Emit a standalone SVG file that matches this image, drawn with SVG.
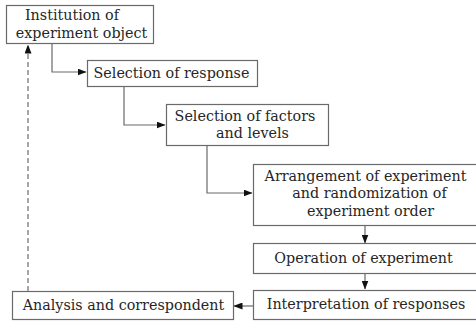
<svg xmlns="http://www.w3.org/2000/svg" width="476" height="322" viewBox="0 0 476 322">
<defs>
<style>
.box{fill:#fff;stroke:#6a6a6a;stroke-width:1.2}
.t{font-family:'DejaVu Serif','Liberation Serif',serif;font-size:14.3px;fill:#262626;text-anchor:middle}
.c{fill:none;stroke:#6a6a6a;stroke-width:1.2}
.d{fill:none;stroke:#8a8a8a;stroke-width:1.5;stroke-dasharray:5,3}
</style>
<marker id="ah" markerWidth="9" markerHeight="7" refX="8.5" refY="3.5" orient="auto" markerUnits="userSpaceOnUse">
<path d="M0,0 L9,3.5 L0,7 Z" fill="#111"/>
</marker>
</defs>
<rect width="476" height="322" fill="#fff"/>
<g id="connectors">
<path class="c" d="M52,44 V72 H86" marker-end="url(#ah)"/>
<path class="c" d="M124,87 V125 H165" marker-end="url(#ah)"/>
<path class="c" d="M207,146 V193 H252" marker-end="url(#ah)"/>
<path class="c" d="M365,226 V243" marker-end="url(#ah)"/>
<path class="c" d="M365,274 V289" marker-end="url(#ah)"/>
<path class="c" d="M253,306 H234" marker-end="url(#ah)"/>
<path class="d" d="M28,291 V45" marker-end="url(#ah)"/>
</g>
<g id="n1">
<rect class="box" x="6.5" y="5.5" width="147" height="38"/>
<text class="t" x="72" y="20">Institution of</text>
<text class="t" x="81.5" y="38">experiment object</text>
</g>
<g id="n2">
<rect class="box" x="87.5" y="60.5" width="170" height="26"/>
<text class="t" x="171.5" y="78">Selection of response</text>
</g>
<g id="n3">
<rect class="box" x="166.5" y="104.5" width="162" height="41"/>
<text class="t" x="245" y="121">Selection of factors</text>
<text class="t" x="252.5" y="138">and levels</text>
</g>
<g id="n4">
<rect class="box" x="253.5" y="164.5" width="226" height="61"/>
<text class="t" x="365.5" y="181">Arrangement of experiment</text>
<text class="t" x="369.5" y="198">and randomization of</text>
<text class="t" x="370.5" y="216">experiment order</text>
</g>
<g id="n5">
<rect class="box" x="253.5" y="243.5" width="226" height="30"/>
<text class="t" x="363.5" y="263">Operation of experiment</text>
</g>
<g id="n6">
<rect class="box" x="253.5" y="290.5" width="226" height="29"/>
<text class="t" x="366" y="309">Interpretation of responses</text>
</g>
<g id="n7">
<rect class="box" x="12.5" y="291.5" width="221" height="28"/>
<text class="t" x="123.5" y="310">Analysis and correspondent</text>
</g>
</svg>
